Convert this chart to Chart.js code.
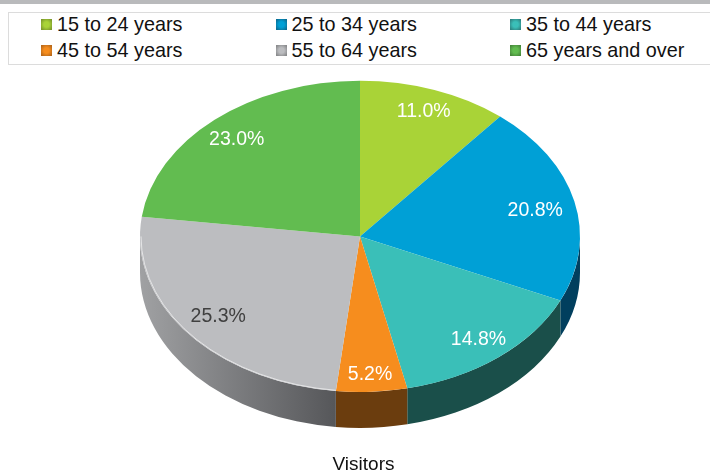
<!DOCTYPE html>
<html>
<head>
<meta charset="utf-8">
<script src="https://cdn.jsdelivr.net/npm/chart.js@4"></script>
<style>
  html, body { margin: 0; padding: 0; background: #fff; }
  body { width: 710px; height: 472px; position: relative; overflow: hidden; font-family: "Liberation Sans", Arial, sans-serif; }
  #topBar { position: absolute; left: 0; top: 0; width: 710px; height: 4px; background: #b9babc; }
  #legend { position: absolute; left: 8px; top: 12px; width: 720px; height: 51px; border: 1px solid #dcdcdc; box-sizing: content-box; }
  .item { position: absolute; font-size: 19.8px; line-height: 26px; color: #111; white-space: nowrap; }
  .swatch { position: absolute; left: 0; top: 8px; width: 11px; height: 11px; box-sizing: border-box; }
  #wrap { position: absolute; left: 0; top: 0; width: 710px; height: 472px; }
</style>
</head>
<body>
<div id="topBar"></div>
<div id="legend"></div>
<div id="wrap"><canvas id="myChart" width="710" height="472"></canvas></div>
<script>
const categories = ["15 to 24 years", "25 to 34 years", "35 to 44 years", "45 to 54 years", "55 to 64 years", "65 years and over"];
const visitors = [11.0, 20.8, 14.8, 5.2, 25.3, 23.0];

const topColors = ["#a9d337", "#00a0d6", "#3abfb8", "#f68d1e", "#bcbdc0", "#62bc50"];
const sideColors = ["#6b8a22", "#013f5e", "#1a4f4a", "#6b3d0e", null, "#3c7a31"];
const edgeColors = ["#7d9a2c", "#0a6f96", "#2f8583", "#b8691a", "#8a8b8d", "#47893b"];
const labelColors = ["#fff", "#fff", "#fff", "#fff", "#404040", "#fff"];
// small nudges, the labels in the reference don't sit on one radius
const labelShiftX = [0, -8, 0, 0, 6, 1];
const labelShiftY = [0, 4, 0, 5, -2, 3];

const squash = 0.707; // flatten the pie into an ellipse
const depth = 36;

// legend in 3 columns, chart.js can't line these up by itself
const legendEl = document.getElementById("legend");
categories.forEach((name, i) => {
  const item = document.createElement("div");
  item.className = "item";
  item.style.left = (32 + (i % 3) * 234.5) + "px";
  item.style.top = (Math.floor(i / 3) * 26 - 2) + "px";
  item.style.paddingLeft = "16px";
  const sw = document.createElement("span");
  sw.className = "swatch";
  sw.style.background = "radial-gradient(circle, " + topColors[i] + " 35%, " + edgeColors[i] + " 85%)";
  item.appendChild(sw);
  item.appendChild(document.createTextNode(name));
  legendEl.appendChild(item);
});

const pie3d = {
  id: "pie3d",
  afterLayout(chart) {
    // title sits a little right of the pie centre
    chart.titleBlock.left += 3.5;
    chart.titleBlock.right += 3.5;
  },
  beforeDatasetsDraw(chart) {
    const ctx = chart.ctx;
    const arcs = chart.getDatasetMeta(0).data;
    const cx = arcs[0].x, cy = arcs[0].y;
    const rx = arcs[0].outerRadius, ry = rx * squash;

    // side wall, only the front half can be seen
    arcs.forEach((arc, i) => {
      const a0 = Math.max(arc.startAngle, 0);
      const a1 = Math.min(arc.endAngle, Math.PI);
      if (a1 <= a0) return;
      ctx.beginPath();
      ctx.ellipse(cx, cy, rx, ry, 0, a0, a1);
      ctx.ellipse(cx, cy + depth, rx, ry, 0, a1, a0, true);
      ctx.closePath();
      if (sideColors[i]) {
        ctx.fillStyle = sideColors[i];
      } else {
        const g = ctx.createLinearGradient(cx - rx, 0, cx - 25, 0);
        g.addColorStop(0, "#a0a1a3");
        g.addColorStop(1, "#56575a");
        ctx.fillStyle = g;
      }
      ctx.fill();
    });

    ctx.save();
    ctx.translate(cx, cy);
    ctx.scale(1, squash);
    ctx.translate(-cx, -cy);
  },
  afterDatasetsDraw(chart) {
    const ctx = chart.ctx;
    ctx.restore();
    const arcs = chart.getDatasetMeta(0).data;

    // light rim along the grey slice
    const grey = arcs[4];
    ctx.beginPath();
    ctx.ellipse(grey.x, grey.y, grey.outerRadius - 1, (grey.outerRadius - 1) * squash, 0, grey.startAngle, Math.PI);
    ctx.strokeStyle = "rgba(255,255,255,0.6)";
    ctx.lineWidth = 1;
    ctx.stroke();

    ctx.font = "19.5px 'Liberation Sans', Arial, sans-serif";
    ctx.textAlign = "center";
    ctx.textBaseline = "middle";
    arcs.forEach((arc, i) => {
      const mid = (arc.startAngle + arc.endAngle) / 2;
      const r = arc.outerRadius * 0.855;
      ctx.fillStyle = labelColors[i];
      ctx.fillText(visitors[i].toFixed(1) + "%",
        arc.x + Math.cos(mid) * r + labelShiftX[i],
        arc.y + Math.sin(mid) * r * squash + labelShiftY[i]);
    });
  }
};

new Chart(document.getElementById("myChart"), {
  type: "pie",
  data: {
    labels: categories,
    datasets: [{ data: visitors, backgroundColor: topColors, borderWidth: 0 }]
  },
  options: {
    responsive: false,
    animation: false,
    events: [],
    layout: { padding: { left: 140, right: 130, top: 16, bottom: 0 } },
    plugins: {
      legend: { display: false },
      tooltip: { enabled: false },
      title: {
        display: true,
        position: "bottom",
        text: "Visitors",
        color: "#111",
        padding: 0,
        font: { family: "'Liberation Sans', Arial, sans-serif", size: 19, weight: "normal", lineHeight: 0.8 }
      }
    }
  },
  plugins: [pie3d]
});
</script>
</body>
</html>
